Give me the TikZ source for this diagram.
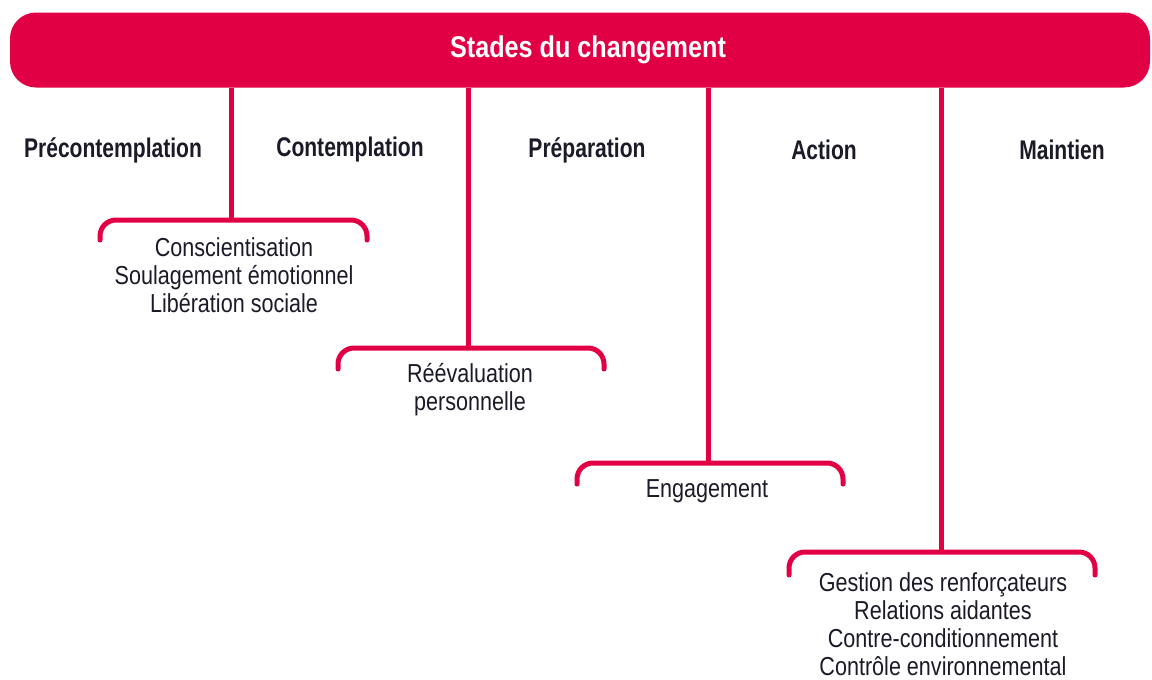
\documentclass[tikz,border=0pt]{standalone}
\usepackage{fontspec}
\setmainfont[FakeStretch=0.83]{Liberation Sans}
\newfontfamily\stagefont[FakeStretch=0.78]{Liberation Sans}
\newfontfamily\titlefont[FakeStretch=0.84]{Liberation Sans}
\definecolor{stadered}{RGB}{225,0,68}
\definecolor{stadeink}{RGB}{26,26,40}

\tikzset{
  barbox/.style={fill=stadered, rounded corners=26pt, minimum width=1140pt,
    minimum height=75pt},
  bartext/.style={text=white, font=\titlefont\bfseries\fontsize{30}{34}\selectfont},
  stage/.style={text=stadeink, font=\stagefont\bfseries\fontsize{27}{30}\selectfont},
  tech/.style={text=stadeink, align=center, font=\fontsize{26}{28}\selectfont},
  stem/.style={draw=stadered, line width=5pt},
  brace/.style={draw=stadered, line width=5pt, rounded corners=16pt, line cap=round}
}

\begin{document}
\begin{tikzpicture}[x=1pt,y=-1pt]
        \useasboundingbox (0,0) rectangle (1152,680);
        \node[barbox] (bar) at (580,50) {};
        \node[bartext] (title) at (588,50) {Stades du changement};
        % stages
        \node[stage] (pre) at (113,150) {Précontemplation};
        \node[stage] (con) at (350,150) {Contemplation};
        \node[stage] (pra) at (587,150) {Préparation};
        \node[stage] (act) at (824,150) {Action};
        \node[stage] (mai) at (1062,150) {Maintien};
        % bracket tops
        \coordinate (b1) at (231,220);
        \coordinate (b2) at (468,348);
        \coordinate (b3) at (708,463);
        \coordinate (b4) at (941,552);
        \draw[stem] (b1 |- bar.south) -- (b1);
        \draw[stem] (b2 |- bar.south) -- (b2);
        \draw[stem] (b3 |- bar.south) -- (b3);
        \draw[stem] (b4 |- bar.south) -- (b4);
        \draw[brace] (100,240) -- (100,220) -- (367,220) -- (367,240);
        \draw[brace] (338,369) -- (338,348) -- (604,348) -- (604,369);
        \draw[brace] (577,484) -- (577,463) -- (843,463) -- (843,484);
        \draw[brace] (789,575) -- (789,552) -- (1095,552) -- (1095,575);
        % processes
        \node[tech] (t1) at (234,275) {Conscientisation\\Soulagement émotionnel\\Libération sociale};
        \node[tech] (t2) at (470,390) {Réévaluation\\personnelle};
        \node[tech] (t3) at (707,491) {Engagement};
        \node[tech] (t4) at (943,624) {Gestion des renforçateurs\\Relations aidantes\\Contre-conditionnement\\Contrôle environnemental};
      \end{tikzpicture}
\end{document}
